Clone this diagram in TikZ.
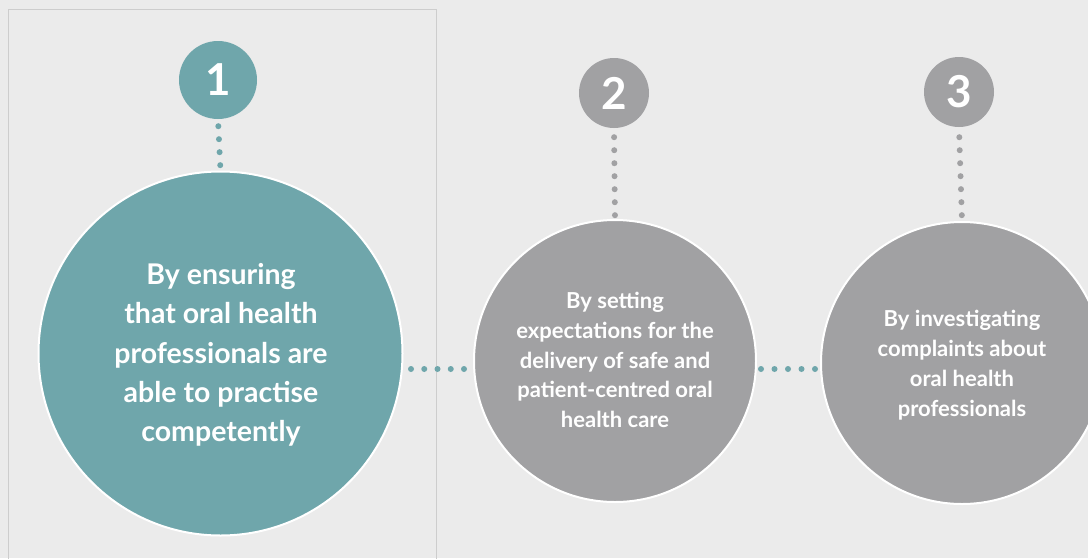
\documentclass[tikz,border=0pt]{standalone}
\usepackage{fontspec}
\setmainfont{Lato}
\definecolor{bg}{HTML}{EBEBEB}
\definecolor{teal}{HTML}{6FA6AB}
\definecolor{greyc}{HTML}{A1A1A3}
\definecolor{frame}{HTML}{CDCDCD}
\tikzset{
  numcirc/.style={circle, inner sep=0pt, minimum size=#1, text=white, font=\bfseries\fontsize{44}{44}\selectfont},
  bigcirc/.style={circle, inner sep=0pt, minimum size=#1, draw=white, line width=2pt},
  dotline/.style={line width=6pt, line cap=round, dash pattern=on 0pt off #1},
  txt/.style={align=center, text=white, font=\bfseries}
}
\begin{document}
\begin{tikzpicture}[x=1pt,y=-1pt]
\useasboundingbox (0,0) rectangle (1088,558);
\clip (0,0) rectangle (1088,558);
\fill[bg] (0,0) rectangle (1088,558);
\draw[frame, line width=1.5pt] (8.5,570) -- (8.5,9.5) -- (436.5,9.5) -- (436.5,570);
% circles
\node[numcirc=78pt, fill=teal] (n1) at (218,80) {1};
\node[numcirc=70pt, fill=greyc] (n2) at (614,93) {2};
\node[numcirc=70pt, fill=greyc] (n3) at (959,92) {3};
\node[bigcirc=364pt, fill=teal] (c1) at (220.5,353.5) {};
\node[bigcirc=282pt, fill=greyc] (c2) at (615,361) {};
\node[bigcirc=282pt, fill=greyc] (c3) at (962,363) {};
% texts
\node[txt, font=\bfseries\fontsize{28.5}{39.2}\selectfont] (t1) at (221,355) {By ensuring\\that oral health\\professionals are\\able to practise\\competently};
\node[txt, font=\bfseries\fontsize{22}{29.8}\selectfont] (t2) at (615,360) {By setting\\expectations for the\\delivery of safe and\\patient-centred oral\\health care};
\node[txt, font=\bfseries\fontsize{22}{29.8}\selectfont] (t3) at (962,365) {By investigating\\complaints about\\oral health\\professionals};
% connectors
\draw[teal, dotline=13pt, shorten <=7pt, shorten >=5pt] (n1.south) -- (c1.north);
\draw[greyc, dotline=13pt, shorten <=9pt, shorten >=3.5pt] (n2.south) -- (c2.north);
\draw[greyc, dotline=13pt, shorten <=10pt, shorten >=5.5pt] (n3.south) -- (c3.north);
\draw[teal, dotline=13.25pt, shorten <=7.5pt, shorten >=8.5pt] (c1.east |- 0,369) -- (c2.west |- 0,369);
\draw[teal, dotline=13.5pt, shorten <=4pt, shorten >=4.5pt] (c2.east |- 0,369) -- (c3.west |- 0,369);
\end{tikzpicture}
\end{document}
